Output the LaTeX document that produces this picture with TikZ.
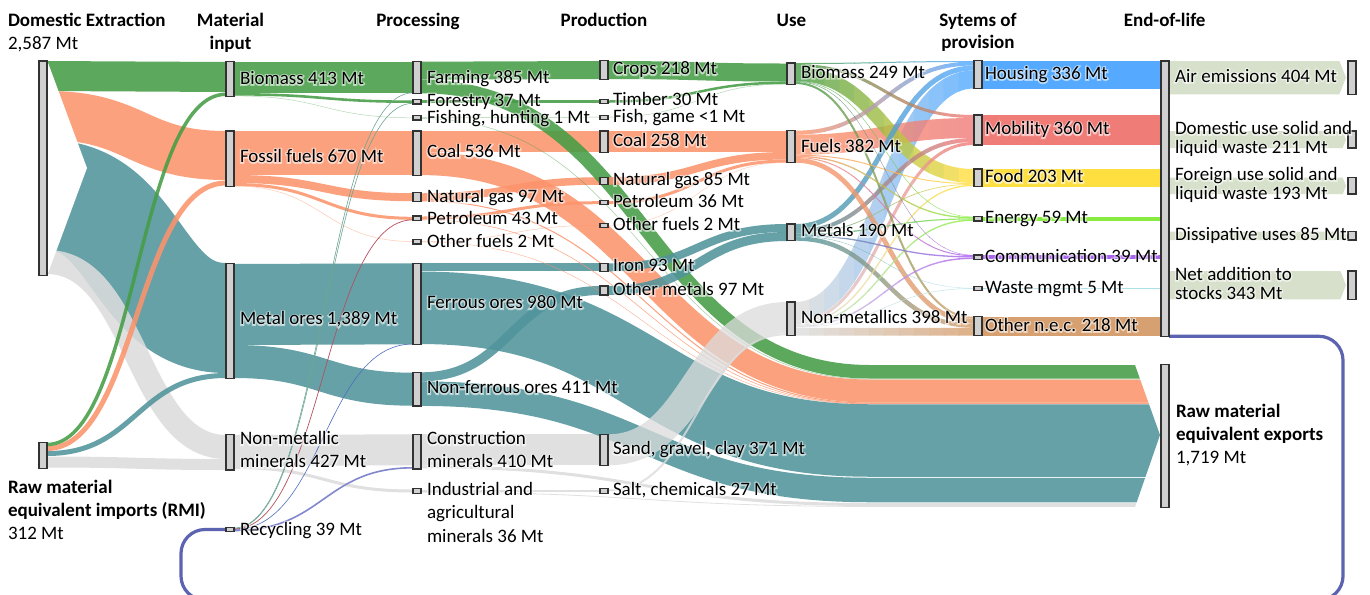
\documentclass[tikz,border=0pt]{standalone}
\usepackage{fontspec}
\setmainfont{Carlito}
\newfontfamily\halofont{Carlito}[FakeBold=14]
\usetikzlibrary{calc}

\definecolor{bio}{RGB}{70,157,70}
\definecolor{fos}{RGB}{252,148,108}
\definecolor{met}{RGB}{80,148,155}
\definecolor{nmm}{RGB}{220,220,220}
\definecolor{rec}{RGB}{92,100,178}
\definecolor{recg}{RGB}{110,165,150}
\definecolor{recr}{RGB}{180,80,95}
\definecolor{recb}{RGB}{80,110,190}
\definecolor{recl}{RGB}{130,135,205}
\definecolor{hou}{RGB}{85,170,255}
\definecolor{mob}{RGB}{240,124,120}
\definecolor{foo}{RGB}{255,222,64}
\definecolor{ene}{RGB}{136,236,64}
\definecolor{com}{RGB}{170,100,238}
\definecolor{was}{RGB}{170,226,234}
\definecolor{oth}{RGB}{214,160,112}
\definecolor{eol}{RGB}{215,224,202}
\definecolor{barfill}{RGB}{208,208,208}
\definecolor{barline}{RGB}{50,50,50}

\tikzset{
  flw/.style={draw=#1,draw opacity=.88},
  lbl/.style={font=\fontsize{14.25pt}{17pt}\selectfont,inner sep=0pt,outer sep=0pt,text=black},
  hdr/.style={lbl,font=\fontsize{14.25pt}{17pt}\selectfont\bfseries},
  blk/.style={draw=barline,fill=barfill,line width=.8pt,minimum width=6pt,inner sep=0pt,outer sep=0pt},
  loopline/.style={draw=rec,line width=2.4pt,rounded corners=18pt},
}

% soft white glow behind a label
\newcommand\glow[1]{%
  \rlap{\pgfsetfillopacity{0.55}\pgfsetstrokeopacity{0.55}\halofont\color{white}#1}%
  \pgfsetfillopacity{1}\pgfsetstrokeopacity{1}#1}
% link of given width between two centre points, horizontal at both ends
\newcommand\lnk[6]{%
  \pgfmathsetmacro\mx{(#2+#4)/2}%
  \draw[#1,line width=#6*0.75pt] (#2,#3) .. controls (\mx,#3) and (\mx,#5) .. (#4,#5);}
% link running on to the export arrow
\newcommand\xlnk[5]{%
  \pgfmathsetmacro\mx{(#2+870)/2}%
  \draw[#1,line width=#5*0.75pt] (#2,#3) .. controls (\mx,#3) and (\mx,#4) .. (870,#4) -- (1170,#4);}
% link whose colour fades from its source to its target
\newcommand\glnk[7]{%
  \pgfmathsetmacro\mx{(#3+#5)/2}%
  \begin{scope}[transparency group,opacity=.8]
    \foreach \i in {0,...,11}{%
      \pgfmathtruncatemacro\pct{100-\i*100/11}%
      \pgfmathsetmacro\xa{#3+\i*(#5-#3)/12-0.5}%
      \pgfmathsetmacro\xb{#3+(\i+1)*(#5-#3)/12+0.5}%
      \begin{scope}
        \clip (\xa,0) rectangle (\xb,594);
        \draw[draw=#1!\pct!#2,line width=#7*0.75pt] (#3,#4) .. controls (\mx,#4) and (\mx,#6) .. (#5,#6);
      \end{scope}}
  \end{scope}}
% node bar: name, left x, top y, bottom y
\newcommand\blk[4]{\node[blk,minimum height={(#4-#3)*0.75pt},anchor=north west] (#1) at (#2,#3) {};}
% label: name, x, centre y, text
\newcommand\lab[4]{\node[lbl,anchor=base west] (#1) at (#2,#3+5.5) {\glow{#4}};}
% end-of-life outflow arrow: top, bottom
\newcommand\eolout[2]{%
  \pgfmathsetmacro\tipd{0.2*(#2-#1)}%
  \pgfmathsetmacro\ym{(#1+#2)/2}%
  \fill[eol] (1169,#1) -- ({1346-\tipd},#1) -- (1346,\ym) -- ({1346-\tipd},#2) -- (1169,#2) -- cycle;}

\begin{document}
\begin{tikzpicture}[x=0.75pt,y=-0.75pt]
\fill[white] (0,0) rectangle (1370,594);

% ---------- domestic extraction and imports -> material input
\lnk{flw=met}{47}{195}{226}{318}{110}
\lnk{flw=nmm}{47}{262}{226}{447}{24}
\lnk{flw=fos}{47}{115.5}{226}{155.5}{49}
\lnk{flw=bio}{47}{76}{226}{77}{30}
\fill[white] (47,60) -- (87,168) -- (47,276) -- cycle;
\lnk{flw=nmm}{47}{462}{226}{464.5}{11}
\lnk{flw=met}{47}{453.5}{226}{375.5}{5}
\lnk{flw=fos}{47}{448.5}{226}{183}{5}
\lnk{flw=bio}{47}{444.5}{226}{94.25}{3.5}

% ---------- material input -> processing
\lnk{flw=bio}{234}{77.5}{413}{77.5}{31}
\lnk{flw=bio}{234}{94.3}{413}{101.7}{2.6}
\lnk{flw=bio,draw opacity=.4}{234}{95.9}{413}{117.8}{0.5}
\lnk{flw=fos}{234}{153}{413}{153}{44}
\lnk{flw=fos}{234}{179}{413}{197.2}{8}
\lnk{flw=fos}{234}{184.5}{413}{218.3}{3}
\lnk{flw=fos,draw opacity=.5}{234}{186}{413}{241.5}{0.5}
\lnk{flw=met}{234}{304.5}{413}{303.8}{81}
\lnk{flw=met}{234}{361.5}{413}{389.2}{33}
\lnk{flw=nmm}{234}{450.5}{413}{449.8}{31}
\lnk{flw=nmm}{234}{467.5}{413}{491}{3}
% recycled material
\lnk{draw=recg}{234}{528}{413}{92.8}{0.6}
\lnk{draw=recg}{234}{528.5}{413}{103.3}{0.6}
\lnk{draw=recr}{234}{529}{413}{219.8}{0.7}
\lnk{draw=recb}{234}{529.5}{413}{344}{0.6}
\lnk{draw=recl}{234}{530.5}{413}{467.8}{1.6}

% ---------- processing -> production
\lnk{flw=bio}{421}{70.7}{600}{70}{18}
\lnk{flw=bio}{421}{101.5}{600}{101.5}{2.5}
\lnk{flw=bio,draw opacity=.5}{421}{117.6}{600}{117.2}{0.5}
\lnk{flw=fos}{421}{141.5}{600}{141.5}{21}
\lnk{flw=fos}{421}{197}{600}{181}{7.5}
\lnk{flw=fos}{421}{218}{600}{202.7}{3}
\lnk{flw=fos,draw opacity=.5}{421}{241.5}{600}{225.3}{0.5}
\lnk{flw=met}{421}{267.3}{600}{267.3}{8}
\lnk{flw=met}{421}{376.8}{600}{290.5}{9}
\lnk{flw=nmm}{421}{449.8}{600}{449.8}{31}
\lnk{flw=nmm}{421}{490.5}{600}{490.5}{2}

% ---------- flows leaving as exports
\begin{scope}
  \clip (400,0) -- (1135,0) -- (1135,365) -- (1160,435) -- (1135,507) -- (1135,594) -- (400,594) -- cycle;
  \xlnk{flw=bio}{421}{86.5}{371.75}{13.5}
  \xlnk{flw=bio,draw opacity=.5}{421}{118.6}{379}{0.5}
  \xlnk{flw=fos}{421}{163.6}{391}{23}
  \xlnk{flw=fos}{421}{200.9}{403}{1}
  \xlnk{flw=fos}{421}{219.8}{403.7}{0.5}
  \xlnk{flw=fos}{421}{241.9}{404}{0.3}
  \xlnk{flw=met}{421}{307.8}{440.5}{72.5}
  \xlnk{flw=met}{421}{393.65}{490}{24.5}
  \xlnk{flw=nmm}{421}{466.8}{504.5}{3}
  \xlnk{flw=nmm}{421}{492.3}{506.4}{0.8}
\end{scope}

% ---------- production -> use
\lnk{flw=bio}{608}{70}{787}{72.5}{18}
\lnk{flw=bio}{608}{101.5}{787}{82.75}{2.5}
\lnk{flw=bio,draw opacity=.5}{608}{117.2}{787}{84}{0.4}
\lnk{flw=fos}{608}{141.5}{787}{141.5}{21}
\lnk{flw=fos}{608}{181}{787}{155.75}{7.5}
\lnk{flw=fos}{608}{202.7}{787}{161}{3}
\lnk{flw=fos,draw opacity=.5}{608}{225.3}{787}{162.5}{0.4}
\lnk{flw=met}{608}{267.3}{787}{228}{8}
\lnk{flw=met}{608}{290.5}{787}{236.5}{9}
\lnk{draw=nmm,draw opacity=.75}{608}{449.8}{787}{317.5}{31}
\lnk{draw=nmm,draw opacity=.8}{608}{490.5}{787}{334.2}{2}

% ---------- use -> systems of provision
\glnk{nmm}{hou}{795}{311}{974}{79.5}{18}
\glnk{fos}{mob}{795}{144.7}{974}{128}{20}
\glnk{bio}{foo}{795}{74}{974}{176}{14}
\glnk{met}{hou}{795}{226.5}{974}{68}{5}
\glnk{fos}{hou}{795}{132.7}{974}{63.5}{4}
\glnk{bio}{hou}{795}{63.5}{974}{61.5}{1}
\glnk{bio}{mob}{795}{65.5}{974}{116.5}{3}
\glnk{met}{mob}{795}{231}{974}{140}{4}
\glnk{nmm}{mob}{795}{321.5}{974}{143.5}{3}
\glnk{fos}{oth}{795}{160.35}{974}{321.05}{4.7}
\glnk{met}{oth}{795}{238.5}{974}{325.6}{4.4}
\glnk{bio}{oth}{795}{83}{974}{317.7}{2}
\glnk{nmm}{oth}{795}{331.75}{974}{331.75}{7.9}
\glnk{fos}{foo}{795}{155.2}{974}{183.5}{1}
\glnk{met}{foo}{795}{233.35}{974}{184.35}{0.7}
\glnk{nmm}{foo}{795}{323.65}{974}{185.35}{1.3}
\glnk{bio}{ene}{795}{81.2}{974}{216.9}{0.4}
\glnk{fos}{ene}{795}{156.35}{974}{217.7}{1.3}
\glnk{met}{ene}{795}{234.3}{974}{218.9}{1.2}
\glnk{nmm}{ene}{795}{324.95}{974}{220.15}{1.3}
\glnk{bio}{com}{795}{81.6}{974}{255.2}{0.4}
\glnk{fos}{com}{795}{157.5}{974}{255.7}{1}
\glnk{met}{com}{795}{235.55}{974}{256.85}{1.3}
\glnk{nmm}{com}{795}{326.3}{974}{258.2}{1.4}
\glnk{met}{was}{795}{236.2}{974}{288.2}{0.3}
\glnk{nmm}{was}{795}{327.2}{974}{288.5}{0.5}

% ---------- systems of provision -> end-of-life
\fill[hou] (982,60.7) rectangle (1161,88.5);
\fill[mob] (982,115) rectangle (1161,145);
\fill[foo] (982,169) rectangle (1161,186.7);
\fill[ene] (982,216.7) rectangle (1161,221);
\fill[com] (982,255) rectangle (1161,259);
\fill[was] (982,287.9) rectangle (1161,289);
\fill[oth] (982,316.7) rectangle (1161,335.7);

% ---------- end-of-life outflows
\eolout{61}{94.3}
\eolout{131}{148}
\eolout{177.7}{194}
\eolout{231.7}{240}
\eolout{271}{299.3}

% ---------- recycling loop back to material input
\draw[loopline] (1169,336.3) -- (1343,336.3) -- (1343,600) -- (181,600) -- (181,529.5) -- (226,529.5);

% ---------- node bars
\blk{DE}{39}{61}{275.5}
\blk{RMI}{39}{442.5}{468.3}
\blk{MIbio}{226}{61.5}{96.3}
\blk{MIfos}{226}{131}{186.3}
\blk{MImet}{226}{263.3}{378.3}
\blk{MInmm}{226}{434.3}{470}
\blk{MIrec}{226}{527.6}{531.8}
\blk{PRfarm}{413}{61.7}{93.3}
\blk{PRfor}{413}{99.5}{104}
\blk{PRfish}{413}{115.7}{120}
\blk{PRcoal}{413}{131}{175.3}
\blk{PRng}{413}{192.7}{201.7}
\blk{PRpet}{413}{216}{220.7}
\blk{PRof}{413}{239.3}{244}
\blk{PRfer}{413}{263.3}{344.3}
\blk{PRnfer}{413}{372.3}{406}
\blk{PRcon}{413}{434.3}{469}
\blk{PRind}{413}{488.7}{493.3}
\blk{PDcrop}{600}{60.7}{79.3}
\blk{PDtim}{600}{99.5}{103.8}
\blk{PDfish}{600}{115.3}{119.3}
\blk{PDcoal}{600}{131}{152.3}
\blk{PDng}{600}{177.3}{184.7}
\blk{PDpet}{600}{200.5}{204.8}
\blk{PDof}{600}{223.3}{227.5}
\blk{PDiron}{600}{263.3}{271.3}
\blk{PDom}{600}{286}{295}
\blk{PDsand}{600}{434.3}{465.3}
\blk{PDsalt}{600}{488.7}{493.3}
\blk{USbio}{787}{63}{84.3}
\blk{USfue}{787}{130.7}{162.7}
\blk{USmet}{787}{224}{240.7}
\blk{USnm}{787}{302}{335.7}
\blk{SPhou}{974}{60.7}{88.5}
\blk{SPmob}{974}{115}{145}
\blk{SPfoo}{974}{169}{186.7}
\blk{SPene}{974}{216.7}{221}
\blk{SPcom}{974}{255}{259.3}
\blk{SPwas}{974}{286.3}{290.7}
\blk{SPoth}{974}{316.7}{335.7}
\blk{EOL}{1161}{61}{336.7}
\blk{EXP}{1161}{364.3}{507.3}
\blk{OUTair}{1348}{61}{94.3}
\blk{OUTdom}{1348}{131}{148}
\blk{OUTfor}{1348}{177.7}{194}
\blk{OUTdis}{1348}{231.7}{240}
\blk{OUTnet}{1348}{271}{299.3}

% ---------- column headings
\node[hdr,anchor=base west] (hDE) at (8,26.5) {Domestic Extraction};
\node[lbl,anchor=base west] (hDEv) at (8,49.2) {2,587 Mt};
\node[hdr,anchor=base] (hMIa) at (230.5,26.5) {Material};
\node[hdr,anchor=base] (hMIb) at (230.5,49.5) {input};
\node[hdr,anchor=base] (hPR) at (418,26.5) {Processing};
\node[hdr,anchor=base] (hPD) at (604,26.5) {Production};
\node[hdr,anchor=base] (hUS) at (791.5,26.5) {Use};
\node[hdr,anchor=base] (hSPa) at (978,26.5) {Sytems of};
\node[hdr,anchor=base] (hSPb) at (978,48.8) {provision};
\node[hdr,anchor=base] (hEL) at (1164.6,26.5) {End-of-life};
\node[hdr,anchor=base west] (rmiA) at (8,493.8) {Raw material};
\node[hdr,anchor=base west] (rmiB) at (8,516.2) {equivalent imports (RMI)};
\node[lbl,anchor=base west] (rmiC) at (8,539.5) {312 Mt};
\node[hdr,anchor=base west] (rmeA) at (1176,417.5) {Raw material};
\node[hdr,anchor=base west] (rmeB) at (1176,440.8) {equivalent exports};
\node[lbl,anchor=base west] (rmeC) at (1176,463.8) {1,719 Mt};

% ---------- node labels
\lab{lMIbio}{240}{79}{Biomass 413 Mt}
\lab{lMIfos}{240}{157}{Fossil fuels 670 Mt}
\lab{lMImet}{240}{319.3}{Metal ores 1,389 Mt}
\lab{lMInmmA}{240}{439.3}{Non-metallic}
\lab{lMInmmB}{240}{462.3}{minerals 427 Mt}
\lab{lMIrec}{240}{530}{Recycling 39 Mt}

\lab{lPRfarm}{427}{78.3}{Farming 385 Mt}
\lab{lPRfor}{427}{100.6}{Forestry 37 Mt}
\lab{lPRfish}{427}{117.6}{Fishing, hunting 1 Mt}
\lab{lPRcoal}{427}{152.3}{Coal 536 Mt}
\lab{lPRng}{427}{197}{Natural gas 97 Mt}
\lab{lPRpet}{427}{219}{Petroleum 43 Mt}
\lab{lPRof}{427}{242}{Other fuels 2 Mt}
\lab{lPRfer}{427}{303.3}{Ferrous ores 980 Mt}
\lab{lPRnfer}{427}{388.3}{Non-ferrous ores 411 Mt}
\lab{lPRconA}{427}{439.3}{Construction}
\lab{lPRconB}{427}{462.3}{minerals 410 Mt}
\lab{lPRindA}{427}{490}{Industrial and}
\lab{lPRindB}{427}{513.3}{agricultural}
\lab{lPRindC}{427}{536.7}{minerals 36 Mt}

\lab{lPDcrop}{613}{69.3}{Crops 218 Mt}
\lab{lPDtim}{613}{100.2}{Timber 30 Mt}
\lab{lPDfish}{613}{117.4}{Fish, game <1 Mt}
\lab{lPDcoal}{613}{141}{Coal 258 Mt}
\lab{lPDng}{613}{180}{Natural gas 85 Mt}
\lab{lPDpet}{613}{202}{Petroleum 36 Mt}
\lab{lPDof}{613}{225}{Other fuels 2 Mt}
\lab{lPDiron}{613}{266}{Iron 93 Mt}
\lab{lPDom}{613}{290}{Other metals 97 Mt}
\lab{lPDsand}{613}{449.3}{Sand, gravel, clay 371 Mt}
\lab{lPDsalt}{613}{490}{Salt, chemicals 27 Mt}

\lab{lUSbio}{801}{72.7}{Biomass 249 Mt}
\lab{lUSfue}{801}{146.7}{Fuels 382 Mt}
\lab{lUSmet}{801}{231}{Metals 190 Mt}
\lab{lUSnm}{801}{318.3}{Non-metallics 398 Mt}

\lab{lSPhou}{985}{74}{Housing 336 Mt}
\lab{lSPmob}{985}{129.3}{Mobility 360 Mt}
\lab{lSPfoo}{985}{177.3}{Food 203 Mt}
\lab{lSPene}{985}{218.3}{Energy 59 Mt}
\lab{lSPcom}{985}{256.7}{Communication 39 Mt}
\lab{lSPwas}{985}{288.3}{Waste mgmt 5 Mt}
\lab{lSPoth}{985}{326}{Other n.e.c. 218 Mt}

\lab{lOUTair}{1175}{76.7}{Air emissions 404 Mt}
\lab{lOUTdomA}{1175}{129}{Domestic use solid and}
\lab{lOUTdomB}{1175}{148.3}{liquid waste 211 Mt}
\lab{lOUTforA}{1175}{175}{Foreign use solid and}
\lab{lOUTforB}{1175}{194}{liquid waste 193 Mt}
\lab{lOUTdis}{1175}{235}{Dissipative uses 85 Mt}
\lab{lOUTnetA}{1175}{275}{Net addition to}
\lab{lOUTnetB}{1175}{294.3}{stocks 343 Mt}

% fix the page to the drawing area
\pgfresetboundingbox
\useasboundingbox (0,0) rectangle (1370,594);
\end{tikzpicture}
\end{document}
